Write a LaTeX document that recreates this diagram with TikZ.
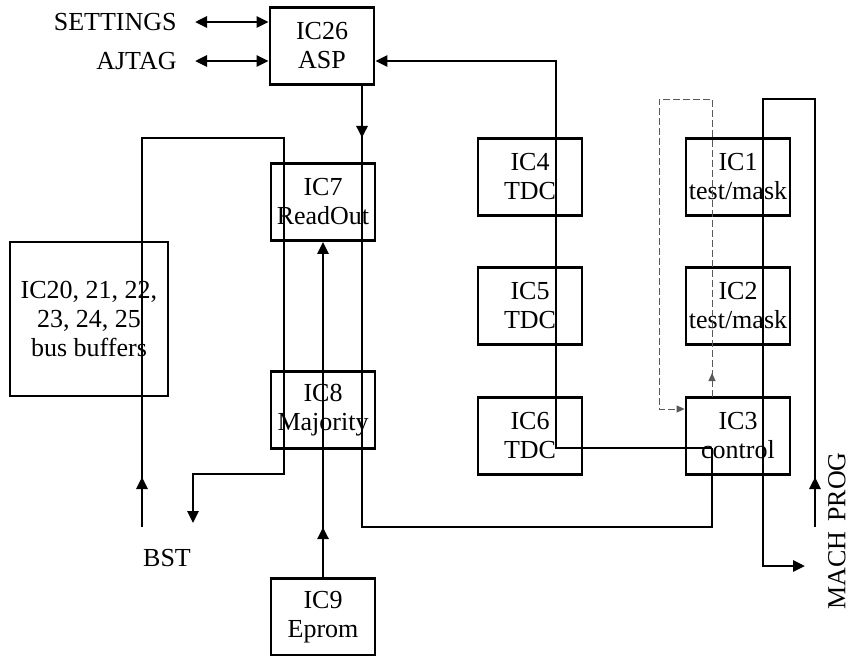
\documentclass[tikz,border=0pt]{standalone}
\usepackage{fontspec}
\setmainfont{Liberation Serif}
\usetikzlibrary{arrows.meta}

\begin{document}
\begin{tikzpicture}[x=0.5pt, y=-0.5pt, >={Triangle[length=6pt,width=5.5pt]},
    puce/.style={draw, line width=1.4pt, minimum width=52pt, minimum height=38.5pt,
      align=center, inner sep=1pt, font=\fontsize{13}{14.5}\selectfont},
    fil/.style={line width=1.4pt},
    retour/.style={dash pattern=on 3.3pt off 1.7pt, gray!70!black, line width=0.5pt,
      >={Triangle[length=4pt,width=3.5pt]}},
    etiq/.style={font=\fontsize{13}{14.5}\selectfont, inner xsep=9pt}]
    \useasboundingbox (0,0) rectangle (851,655);

    % Boîtiers
    \node[puce] (asp) at (322,46) {IC26\\ASP};
    \node[puce] (ic7) at (323,202) {IC7\\ReadOut};
    \node[puce] (ic8) at (323,410) {IC8\\Majority};
    \node[puce] (ic9) at (323,617) {IC9\\Eprom};
    \node[puce] (ic4) at (530,177) {IC4\\TDC};
    \node[puce] (ic5) at (530,306) {IC5\\TDC};
    \node[puce] (ic6) at (530,436) {IC6\\TDC};
    \node[puce] (ic1) at (738,177) {IC1\\test/mask};
    \node[puce] (ic2) at (738,306) {IC2\\test/mask};
    \node[puce] (ic3) at (738,436) {IC3\\control};
    \node[puce, minimum width=79pt, minimum height=77pt] (buf) at (89,319) {IC20, 21, 22,\\23, 24, 25\\bus buffers};

    % Etiquettes
    \node[etiq, anchor=east] (settings) at (195,22) {SETTINGS};
    \node[etiq, anchor=east] (ajtag) at (195,61) {AJTAG};
    \node[etiq] (bst) at (167,558) {BST};
    \node[etiq, rotate=90, inner sep=1pt] (mach) at (837,531) {MACH\hspace{5pt}PROG};

    % Points de passage
    \coordinate (ctl) at (712,448);
    \coordinate (tbus) at (556,448);
    \coordinate (rbus) at (362,527);
    \coordinate (bstin) at (142,527);
    \coordinate (bsttop) at (284,138);
    \coordinate (bstret) at (193,474);
    \coordinate (bstout) at (193,523);
    \coordinate (cmd) at (712,397);
    \coordinate (boucle) at (659,99);
    \coordinate (boucleb) at (659,409);
    \coordinate (machin) at (815,527);
    \coordinate (machtop) at (763,99);
    \coordinate (machout) at (805,566);

    % Liaisons ASP
    \draw[<->, fil] (settings.east) -- (settings -| asp.west);
    \draw[<->, fil] (ajtag.east) -- (ajtag -| asp.west);
    \draw[->, fil] (ctl) -- (tbus) |- (ajtag -| asp.east);
    \draw[->, fil] (rbus |- asp.south) -- ++(0,52);
    \draw[fil] (rbus |- asp.south) -- (rbus) -| (ctl);

    % BST
    \draw[->, fil] (bstin) -- ++(0,-50);
    \draw[->, fil] (bstin) |- (bsttop) |- (bstret) -- (bstout);

    % Eprom vers ReadOut
    \draw[->, fil] (ic9.north) -- ++(0,-50);
    \draw[->, fil] (ic9.north) -- (ic7.south);

    % Boucle test/mask
    \draw[->, retour] (cmd) -- ++(0,-24);
    \draw[->, retour] (cmd) |- (boucle) -- (boucleb) -- (boucleb -| ic3.west);

    % MACH PROG
    \draw[->, fil] (machin) -- ++(0,-50);
    \draw[->, fil] (machin) |- (machtop) |- (machout);
\end{tikzpicture}
\end{document}
